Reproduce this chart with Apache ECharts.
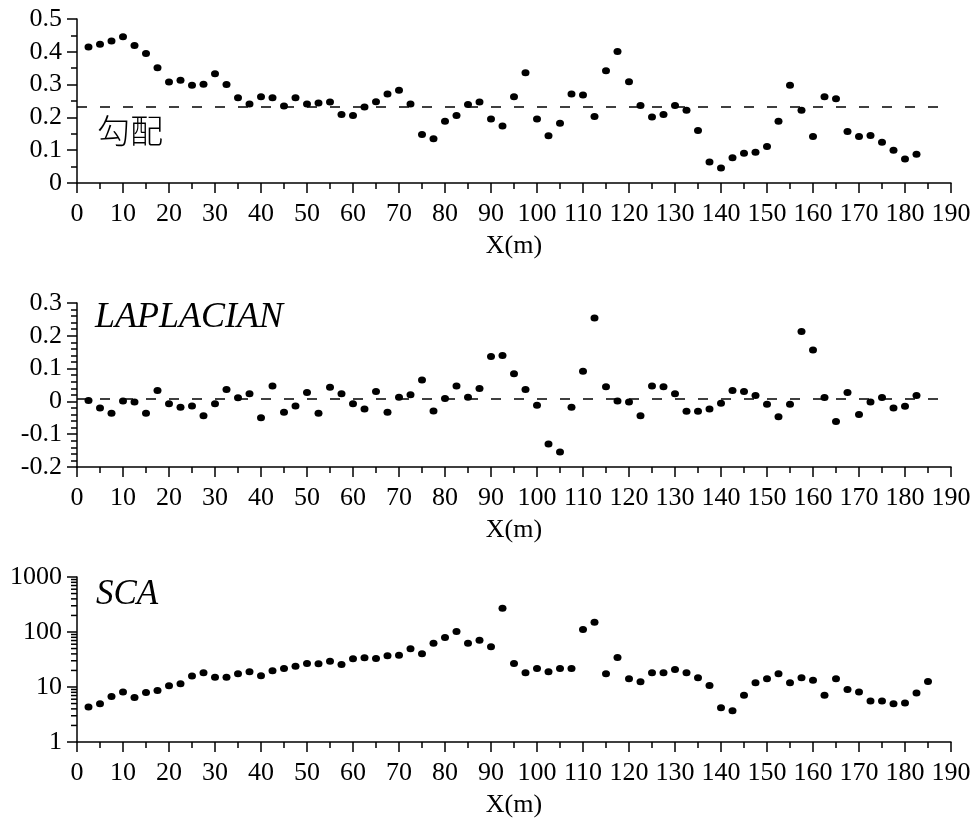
<!DOCTYPE html>
<html><head><meta charset="utf-8">
<script src="https://cdn.jsdelivr.net/npm/echarts@6/dist/echarts.min.js"></script>
<style>html,body{margin:0;padding:0;background:#fff}#c{width:978px;height:819px}</style>
</head><body><div id="c"></div>
<script>
// ---- data ----
const xPos = [2.5,5,7.5,10,12.5,15,17.5,20,22.5,25,27.5,30,32.5,35,37.5,40,42.5,45,47.5,50,
  52.5,55,57.5,60,62.5,65,67.5,70,72.5,75,77.5,80,82.5,85,87.5,90,92.5,95,97.5,100,
  102.5,105,107.5,110,112.5,115,117.5,120,122.5,125,127.5,130,132.5,135,137.5,140,142.5,145,147.5,150,
  152.5,155,157.5,160,162.5,165,167.5,170,172.5,175,177.5,180,182.5,185];
const gradient = [0.415,0.423,0.433,0.446,0.419,0.395,0.351,0.308,0.313,0.298,0.301,0.333,0.300,0.260,0.241,0.263,0.260,0.235,0.260,0.241,
  0.244,0.247,0.209,0.206,0.232,0.248,0.271,0.283,0.241,0.148,0.135,0.188,0.206,0.239,0.247,0.195,0.174,0.263,0.336,0.195,
  0.144,0.182,0.271,0.268,0.203,0.342,0.401,0.309,0.236,0.201,0.209,0.236,0.222,0.160,0.064,0.046,0.077,0.091,0.094,0.111,
  0.188,0.298,0.222,0.142,0.263,0.257,0.157,0.142,0.145,0.124,0.100,0.073,0.088];
const laplacian = [0.003,-0.020,-0.036,0.001,-0.002,-0.036,0.033,-0.007,-0.018,-0.014,-0.044,-0.007,0.036,0.011,0.023,-0.050,0.047,-0.033,-0.014,0.027,
  -0.036,0.043,0.023,-0.007,-0.023,0.030,-0.033,0.013,0.020,0.065,-0.029,0.009,0.047,0.013,0.039,0.137,0.140,0.084,0.036,-0.012,
  -0.130,-0.154,-0.018,0.092,0.254,0.045,0.001,-0.002,-0.044,0.047,0.045,0.023,-0.030,-0.030,-0.023,-0.006,0.033,0.030,0.018,-0.009,
  -0.047,-0.009,0.213,0.157,0.012,-0.061,0.027,-0.040,-0.002,0.012,-0.020,-0.015,0.018];
const sca = [4.32,4.96,6.74,8.08,6.47,7.97,8.67,10.5,11.4,15.8,18.1,15.1,15.1,17.4,18.9,16.0,19.7,21.7,23.9,26.8,
  26.4,29.5,25.7,32.5,33.9,33.0,36.9,37.9,49.4,40.1,62.6,79.4,102,62.6,71,53.7,270,26.8,18.1,21.7,
  18.9,21.7,21.7,111,151,17.4,34.4,14.1,12.4,18.1,18.1,20.8,18.1,14.7,10.7,4.2,3.7,7.1,11.9,14.1,
  17.4,11.9,14.7,13.2,7.1,14.1,9.0,8.1,5.55,5.55,4.96,5.1,7.75,12.6];
const gradMean = 0.231;
const lapMean = 0.007;
const meanLineX = [0, 188.5];
const xRange = [0, 190, 10];
const gradRange = [0, 0.5, 0.1];
const lapRange = [-0.2, 0.3, 0.1];
const scaRange = [1, 1000];
const logMinorTicks = [2,3,4,5,6,7,8,9,20,30,40,50,60,70,80,90,200,300,400,500,600,700,800,900];
const panelTitles = ['勾配', 'LAPLACIAN', 'SCA'];
const xName = 'X(m)';

// ---- chart ----
const serif = '"Liberation Serif","Times New Roman",serif';
const black = '#000';
const grids = [
  {left: 77, width: 874, top: 19, height: 164, outerBoundsMode: 'none'},
  {left: 77, width: 874, top: 303, height: 164, outerBoundsMode: 'none'},
  {left: 77, width: 874, top: 577, height: 165, outerBoundsMode: 'none'}
];
const lineS = {color: black, width: 1.5};
function xAxisFor(i) {
  return {
    type: 'value', gridIndex: i, min: xRange[0], max: xRange[1], interval: xRange[2],
    name: xName, nameLocation: 'middle', nameGap: 50,
    nameTextStyle: {fontFamily: serif, fontSize: 26, color: black},
    axisLine: {onZero: false, lineStyle: lineS},
    axisTick: {length: 10, lineStyle: lineS},
    minorTick: {show: true, splitNumber: 2, length: 6, lineStyle: lineS},
    axisLabel: {fontFamily: serif, fontSize: 26, color: black, margin: 18, showMinLabel: true, showMaxLabel: true},
    splitLine: {show: false}, minorSplitLine: {show: false}
  };
}
function yAxisFor(i, r, minorSplit) {
  return {
    type: 'value', gridIndex: i, min: r[0], max: r[1], interval: r[2],
    axisLine: {onZero: false, lineStyle: lineS},
    axisTick: {length: 10, lineStyle: lineS},
    minorTick: {show: true, splitNumber: minorSplit, length: 6, lineStyle: lineS},
    axisLabel: {fontFamily: serif, fontSize: 26, color: black, margin: 15, showMinLabel: true, showMaxLabel: true},
    splitLine: {show: false}, minorSplitLine: {show: false}
  };
}
const dotStyle = {color: black, opacity: 1};
const dashLine = (yv) => ({
  symbol: 'none', silent: true, label: {show: false},
  lineStyle: {type: [10, 13], color: black, width: 1.5, opacity: 1},
  data: [[{coord: [meanLineX[0], yv]}, {coord: [meanLineX[1], yv]}]]
});
const pairs = (ys) => ys.map((v, i) => [xPos[i], v]);

const option = {
  animation: false,
  backgroundColor: '#fff',
  grid: grids,
  xAxis: [xAxisFor(0), xAxisFor(1), xAxisFor(2)],
  yAxis: [
    yAxisFor(0, gradRange, 2),
    yAxisFor(1, lapRange, 5),
    {
      type: 'log', gridIndex: 2, min: scaRange[0], max: scaRange[1], logBase: 10,
      axisLine: {onZero: false, lineStyle: lineS},
      axisTick: {length: 10, lineStyle: lineS},
      minorTick: {show: false},
      axisLabel: {fontFamily: serif, fontSize: 26, color: black, margin: 15, showMinLabel: true, showMaxLabel: true,
                  formatter: (v) => String(Math.round(v))},
      splitLine: {show: false}, minorSplitLine: {show: false}
    }
  ],
  series: [
    {type: 'scatter', xAxisIndex: 0, yAxisIndex: 0, symbol: 'circle', symbolSize: [8, 7], itemStyle: dotStyle,
     data: pairs(gradient), markLine: dashLine(gradMean)},
    {type: 'scatter', xAxisIndex: 1, yAxisIndex: 1, symbol: 'circle', symbolSize: [8, 7], itemStyle: dotStyle,
     data: pairs(laplacian), markLine: dashLine(lapMean)},
    {type: 'scatter', xAxisIndex: 2, yAxisIndex: 2, symbol: 'circle', symbolSize: [8, 7], itemStyle: dotStyle,
     data: pairs(sca)},
    {type: 'custom', xAxisIndex: 2, yAxisIndex: 2, clip: false, silent: true,
     data: logMinorTicks.map(v => [0, v]),
     renderItem: function (params, api) {
       const p = api.coord([0, api.value(1)]);
       return {type: 'line', shape: {x1: p[0] - 6, y1: p[1], x2: p[0], y2: p[1]},
               style: {stroke: black, lineWidth: 1.5}};
     }}
  ],
  graphic: [
    {type: 'text', left: 97, top: 114, style: {text: panelTitles[0], font: '300 33px "Noto Sans CJK JP"', fill: black}},
    {type: 'text', left: 95, top: 300, style: {text: panelTitles[1], font: 'italic 36px "Liberation Serif"', fill: black}},
    {type: 'text', left: 96, top: 577, style: {text: panelTitles[2], font: 'italic 35px "Liberation Serif"', fill: black}}
  ]
};
const chart = echarts.init(document.getElementById('c'), null, {renderer: 'canvas'});
chart.setOption(option);
</script>
</body></html>
